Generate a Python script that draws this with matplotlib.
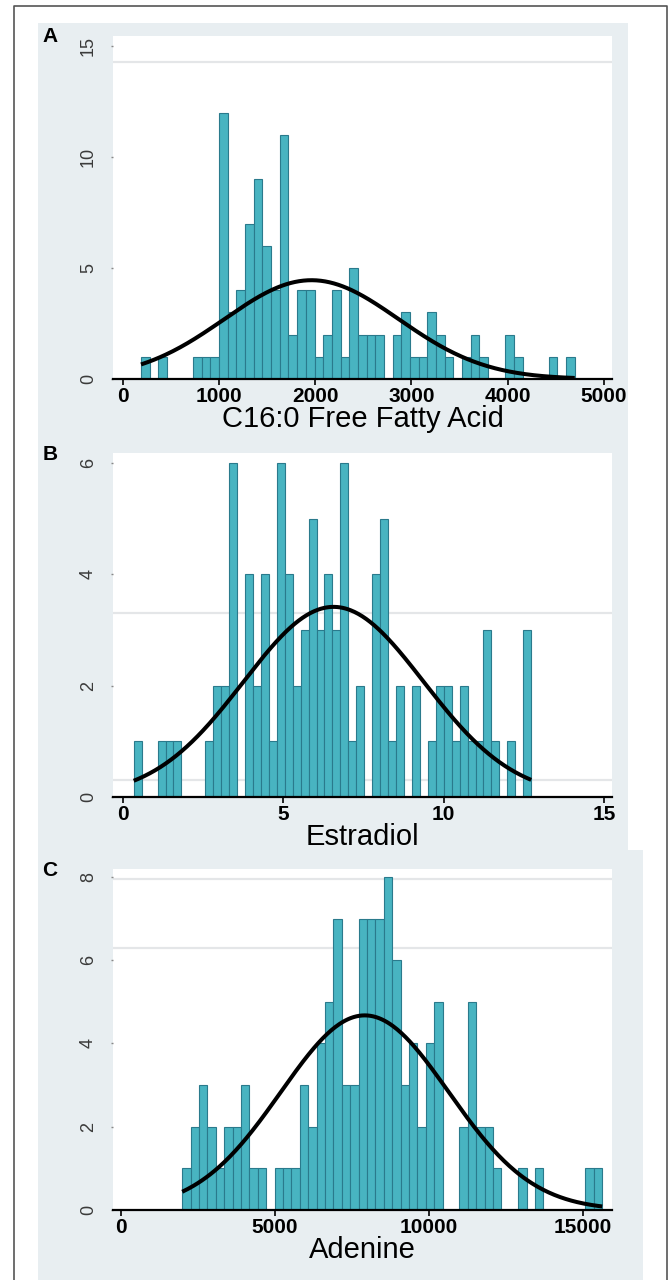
import numpy as np
import matplotlib
matplotlib.use("Agg")
import matplotlib.pyplot as plt
from matplotlib.patches import Rectangle

plt.rcParams['font.family'] = ['Liberation Sans', 'DejaVu Sans']

# --- data (50 bins each, frequency) ---
ffa_start = 191
ffa_width = 90.1
ffa_counts = [1, 0, 1, 0, 0, 0, 1, 1, 1, 12,
              3, 4, 7, 9, 6, 4, 11, 2, 4, 4,
              1, 2, 4, 1, 5, 2, 2, 2, 0, 2,
              3, 1, 1, 3, 2, 1, 0, 1, 2, 1,
              0, 0, 2, 1, 0, 0, 0, 1, 0, 1]

estr_start = 0.346
estr_width = 0.2477
estr_counts = [1, 0, 0, 1, 1, 1, 0, 0, 0, 1,
               2, 2, 6, 0, 4, 2, 4, 1, 6, 4,
               2, 3, 5, 3, 4, 3, 6, 1, 2, 0,
               4, 5, 1, 2, 0, 2, 0, 1, 2, 2,
               1, 2, 1, 1, 3, 1, 0, 1, 0, 3]

aden_start = 1987
aden_width = 272.7
aden_counts = [1, 2, 3, 2, 1, 2, 2, 3, 1, 1,
               0, 1, 1, 1, 3, 2, 4, 5, 7, 3,
               3, 7, 7, 7, 8, 6, 3, 4, 2, 4,
               5, 0, 0, 2, 5, 2, 2, 1, 0, 0,
               1, 0, 1, 0, 0, 0, 0, 0, 1, 1]

ffa_xticks = [0, 1000, 2000, 3000, 4000, 5000]
estr_xticks = [0, 5, 10, 15]
aden_xticks = [0, 5000, 10000, 15000]
ffa_yticks = [0, 5, 10, 15]
estr_yticks = [0, 2, 4, 6]
aden_yticks = [0, 2, 4, 6, 8]

W, H = 669, 1280
BAR = '#48b4c1'
EDGE = '#2a7a8c'
REGION = '#e8eef1'

fig = plt.figure(figsize=(W / 100, H / 100), dpi=100)
fig.patch.set_facecolor('white')


def px_rect(x0, y0, x1, y1, **kw):
    # rectangle given in image pixels (y down)
    r = Rectangle((x0 / W, 1 - y1 / H), (x1 - x0) / W, (y1 - y0) / H,
                  transform=fig.transFigure, **kw)
    fig.patches.append(r)


# graph regions and outer frame (behind the axes)
px_rect(38, 23, 628, 850, facecolor=REGION, edgecolor='none', zorder=-5)
px_rect(38, 850, 643, 1280, facecolor=REGION, edgecolor='none', zorder=-5)
fig.add_artist(plt.Line2D([14 / W, 14 / W, 667 / W, 667 / W],
                          [0, 1 - 6 / H, 1 - 6 / H, 0],
                          transform=fig.transFigure, color='#555555', lw=1.2))


def panel(top, bottom, letter, start, width, counts, xlim, ylim,
          xticks, yticks, xlabel, ghost_lines):
    ax = fig.add_axes([113 / W, 1 - bottom / H, (612 - 113) / W, (bottom - top) / H])
    ax.set_facecolor('white')
    counts = np.array(counts, dtype=float)
    edges = start + width * np.arange(len(counts) + 1)
    centers = (edges[:-1] + edges[1:]) / 2

    for g in ghost_lines:
        ax.axhline(g, color='#e4e6e8', lw=1.6, zorder=0.5)

    ax.bar(edges[:-1], counts, width=width, align='edge', color=BAR,
           edgecolor=EDGE, linewidth=0.8, zorder=2)

    # normal density scaled to frequency
    n = counts.sum()
    mu = (counts * centers).sum() / n
    sd = np.sqrt((counts * (centers - mu) ** 2).sum() / (n - 1))
    xs = np.linspace(edges[0], edges[-1], 300)
    ys = n * width * np.exp(-0.5 * ((xs - mu) / sd) ** 2) / (sd * np.sqrt(2 * np.pi))
    ax.plot(xs, ys, color='black', lw=2.9, zorder=3, solid_capstyle='butt')

    ax.set_xlim(*xlim)
    ax.set_ylim(*ylim)
    ax.set_xticks(xticks)
    ax.set_yticks(yticks)
    ax.set_xticklabels([str(t) for t in xticks], fontsize=15, fontweight='bold')
    ax.set_yticklabels([str(t) for t in yticks], fontsize=13, color='#3a3a3a',
                       rotation=90, va='center')
    ax.tick_params(axis='x', length=4, width=1.2, pad=2, color='black')
    ax.tick_params(axis='y', length=1.5, width=1, pad=10, color='#888888')
    for s in ['top', 'right', 'left']:
        ax.spines[s].set_visible(False)
    ax.spines['bottom'].set_linewidth(1.6)
    ax.set_xlabel(xlabel, fontsize=21, labelpad=-1)

    fig.text(50 / W, 1 - (top + 1) / H, letter, fontsize=15, fontweight='bold',
             ha='center', va='center')
    return ax


panel(36, 379, 'A', ffa_start, ffa_width, ffa_counts, (-100, 5083), (0, 15.45),
      ffa_xticks, ffa_yticks, 'C16:0 Free Fatty Acid', [14.3])
panel(453, 797, 'B', estr_start, estr_width, estr_counts, (-0.3, 15.25), (0, 6.18),
      estr_xticks, estr_yticks, 'Estradiol', [3.3, 0.3])
panel(869, 1210, 'C', aden_start, aden_width, aden_counts, (-260, 15940), (0, 8.19),
      aden_xticks, aden_yticks, 'Adenine', [6.3, 7.95])

fig.savefig('out.png', dpi=100)
